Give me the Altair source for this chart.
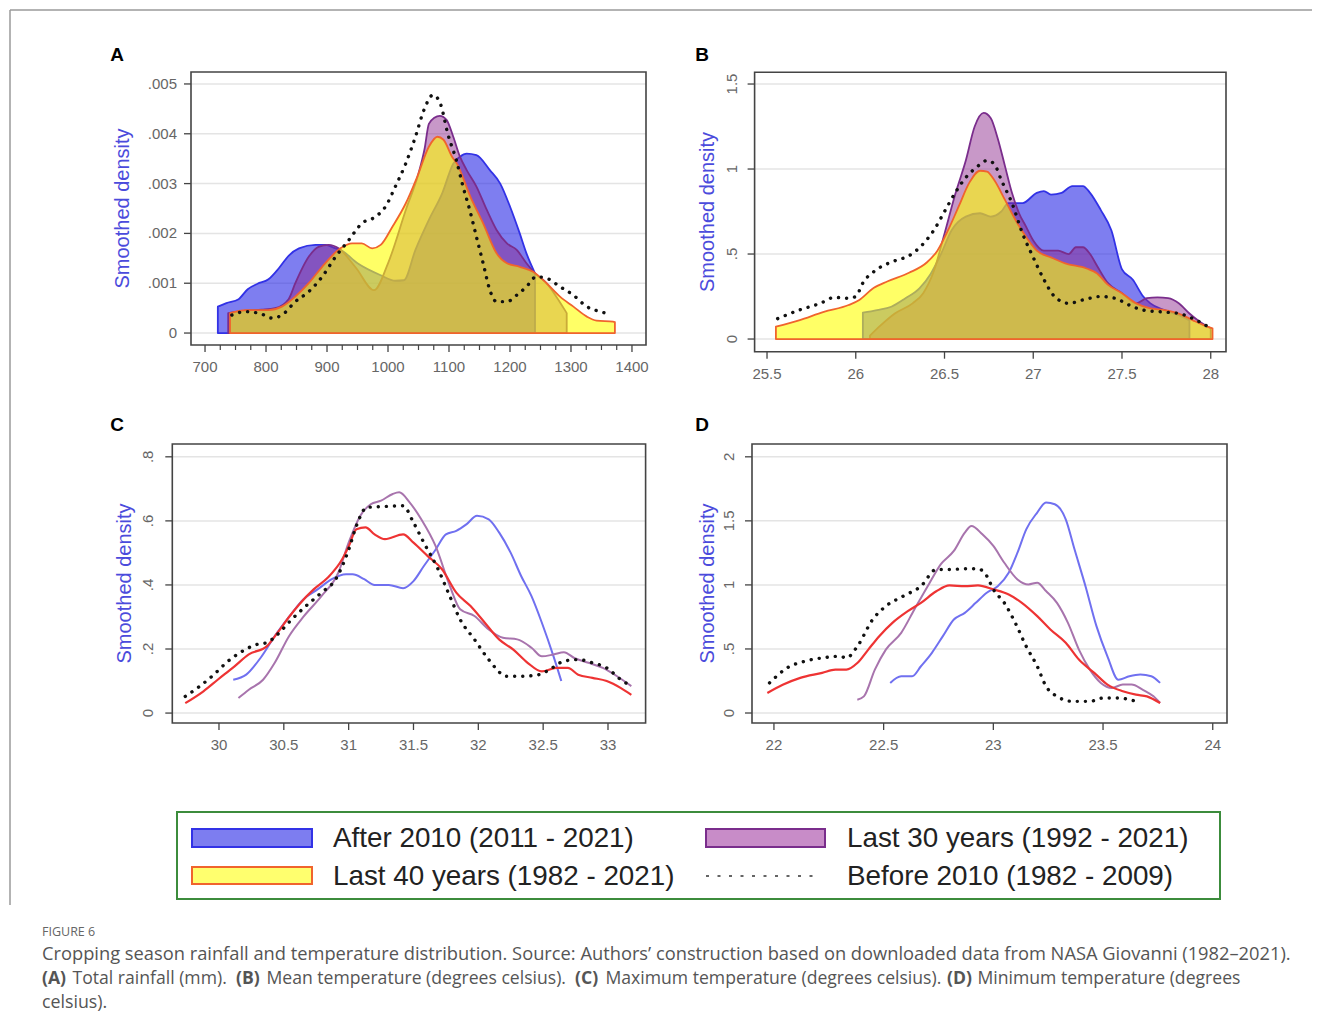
import altair as alt
import pandas as pd

# ---------------- data ----------------
# Panel A : total rainfall (mm)
A_BLUE_X = [721, 735, 755, 770, 786, 804, 821, 837, 854, 881, 897, 914, 922, 950, 988, 1012, 1026, 1045, 1067, 1089, 1107, 1118, 1129, 1145, 1167, 1184, 1200, 1216, 1227, 1241]
A_BLUE_Y = [0.00053, 0.0006, 0.00068, 0.00088, 0.00099, 0.00108, 0.0013, 0.00155, 0.0017, 0.00177, 0.00177, 0.0017, 0.00167, 0.0014, 0.00116, 0.00105, 0.00106, 0.00167, 0.00227, 0.00281, 0.0034, 0.00354, 0.0036, 0.00357, 0.00327, 0.003, 0.00254, 0.002, 0.0016, 0.0012]
A_PURP_X = [738, 766, 793, 815, 837, 848, 870, 886, 903, 919, 948, 977, 1000, 1030, 1050, 1060, 1067, 1076, 1085, 1096, 1107, 1118, 1129, 1145, 1162, 1178, 1195, 1211, 1227, 1241, 1260, 1276, 1290, 1293]
A_PURP_Y = [0.0004, 0.00045, 0.00047, 0.0005, 0.00068, 0.001, 0.00153, 0.00173, 0.00177, 0.0017, 0.0013, 0.00086, 0.0014, 0.0025, 0.0032, 0.0037, 0.0042, 0.00432, 0.00436, 0.00428, 0.00394, 0.00354, 0.00327, 0.00294, 0.00247, 0.00207, 0.0018, 0.00167, 0.0014, 0.0012, 0.001, 0.00073, 0.00046, 0.0004]
A_YELL_X = [741, 766, 804, 826, 848, 870, 892, 922, 941, 957, 974, 988, 1007, 1029, 1048, 1067, 1081, 1091, 1105, 1113, 1135, 1156, 1178, 1195, 1216, 1238, 1260, 1282, 1304, 1326, 1342, 1369, 1372]
A_YELL_Y = [0.0004, 0.00046, 0.00046, 0.00053, 0.00073, 0.001, 0.00133, 0.0017, 0.0018, 0.0018, 0.0017, 0.00177, 0.00213, 0.0026, 0.00314, 0.00374, 0.00394, 0.00388, 0.00354, 0.0034, 0.00274, 0.0022, 0.0016, 0.0014, 0.00133, 0.00123, 0.001, 0.00073, 0.00053, 0.00033, 0.00025, 0.00023, 0.00022]
A_DOT_X = [744, 766, 793, 810, 826, 848, 870, 892, 914, 936, 957, 979, 996, 1012, 1029, 1045, 1059, 1074, 1086, 1098, 1112, 1123, 1134, 1145, 1156, 1167, 1178, 1195, 1211, 1227, 1243, 1260, 1282, 1304, 1326, 1348, 1364]
A_DOT_Y = [0.00036, 0.00043, 0.00038, 0.0003, 0.00036, 0.00063, 0.00083, 0.00113, 0.00153, 0.00187, 0.0022, 0.00233, 0.00254, 0.00294, 0.0034, 0.00394, 0.00448, 0.00478, 0.0046, 0.004, 0.00347, 0.00294, 0.00247, 0.00193, 0.0014, 0.00086, 0.00063, 0.00063, 0.00076, 0.00093, 0.00113, 0.0011, 0.00093, 0.00076, 0.00053, 0.00043, 0.00038]

# Panel B : mean temperature
B_BLUE_X = [26.04, 26.12, 26.2, 26.28, 26.36, 26.42, 26.48, 26.54, 26.62, 26.7, 26.76, 26.82, 26.86, 26.94, 27.02, 27.06, 27.1, 27.16, 27.22, 27.28, 27.32, 27.38, 27.44, 27.5, 27.56, 27.62, 27.66, 27.74, 27.82, 27.88]
B_BLUE_Y = [0.155, 0.17, 0.19, 0.24, 0.3, 0.38, 0.5, 0.64, 0.72, 0.74, 0.72, 0.75, 0.8, 0.8, 0.86, 0.87, 0.85, 0.86, 0.9, 0.9, 0.86, 0.76, 0.64, 0.41, 0.35, 0.25, 0.21, 0.17, 0.14, 0.11]
B_PURP_X = [26.08, 26.14, 26.22, 26.32, 26.38, 26.44, 26.5, 26.56, 26.62, 26.67, 26.72, 26.76, 26.8, 26.84, 26.88, 26.92, 26.96, 27.0, 27.06, 27.14, 27.2, 27.24, 27.28, 27.32, 27.36, 27.42, 27.5, 27.58, 27.64, 27.7, 27.76, 27.82, 27.88, 27.94, 28.0]
B_PURP_Y = [0.02, 0.08, 0.15, 0.21, 0.27, 0.4, 0.62, 0.85, 1.05, 1.25, 1.33, 1.3, 1.18, 1.02, 0.86, 0.74, 0.66, 0.58, 0.52, 0.52, 0.5, 0.54, 0.54, 0.5, 0.43, 0.33, 0.27, 0.21, 0.24, 0.245, 0.24, 0.21, 0.15, 0.1, 0.063]
B_YELL_X = [25.55, 25.68, 25.82, 25.96, 26.02, 26.1, 26.18, 26.3, 26.4, 26.46, 26.52, 26.58, 26.64, 26.7, 26.74, 26.78, 26.84, 26.9, 26.96, 27.02, 27.1, 27.18, 27.3, 27.36, 27.42, 27.5, 27.58, 27.66, 27.74, 27.82, 27.9, 27.96, 28.01]
B_YELL_Y = [0.073, 0.11, 0.16, 0.2, 0.23, 0.3, 0.34, 0.39, 0.45, 0.52, 0.64, 0.78, 0.92, 0.99, 0.985, 0.935, 0.82, 0.7, 0.6, 0.52, 0.48, 0.445, 0.415, 0.386, 0.32, 0.27, 0.21, 0.18, 0.17, 0.15, 0.11, 0.082, 0.063]
B_DOT_X = [25.56, 25.68, 25.8, 25.88, 25.96, 26.0, 26.04, 26.12, 26.22, 26.3, 26.38, 26.44, 26.5, 26.56, 26.62, 26.68, 26.74, 26.78, 26.82, 26.88, 26.94, 27.0, 27.06, 27.12, 27.2, 27.28, 27.38, 27.46, 27.54, 27.62, 27.72, 27.82, 27.92, 28.0]
B_DOT_Y = [0.12, 0.17, 0.21, 0.245, 0.24, 0.25, 0.33, 0.41, 0.46, 0.49, 0.56, 0.64, 0.75, 0.86, 0.95, 1.01, 1.05, 1.03, 0.935, 0.8, 0.62, 0.48, 0.35, 0.25, 0.21, 0.23, 0.25, 0.24, 0.2, 0.17, 0.16, 0.15, 0.11, 0.063]

# Panel C : maximum temperature
C_BLUE_X = [30.11, 30.21, 30.32, 30.43, 30.54, 30.65, 30.76, 30.87, 30.98, 31.03, 31.12, 31.2, 31.31, 31.42, 31.5, 31.58, 31.67, 31.75, 31.83, 31.91, 31.99, 32.08, 32.16, 32.25, 32.33, 32.41, 32.49, 32.58, 32.64]
C_BLUE_Y = [0.104, 0.12, 0.172, 0.24, 0.3, 0.355, 0.386, 0.418, 0.433, 0.433, 0.418, 0.4, 0.4, 0.39, 0.412, 0.459, 0.51, 0.558, 0.569, 0.59, 0.616, 0.605, 0.564, 0.5, 0.428, 0.365, 0.282, 0.177, 0.1]
C_PURP_X = [30.15, 30.23, 30.34, 30.43, 30.54, 30.65, 30.79, 30.92, 31.0, 31.09, 31.17, 31.25, 31.34, 31.39, 31.47, 31.56, 31.67, 31.78, 31.86, 31.97, 32.08, 32.19, 32.3, 32.41, 32.49, 32.58, 32.66, 32.74, 32.85, 32.96, 33.07, 33.18]
C_PURP_Y = [0.047, 0.073, 0.104, 0.157, 0.24, 0.3, 0.365, 0.438, 0.532, 0.616, 0.652, 0.663, 0.684, 0.689, 0.658, 0.605, 0.522, 0.397, 0.324, 0.303, 0.261, 0.235, 0.23, 0.204, 0.177, 0.183, 0.19, 0.172, 0.157, 0.141, 0.115, 0.084]
C_RED_X = [29.74, 29.88, 29.99, 30.12, 30.23, 30.37, 30.45, 30.54, 30.62, 30.73, 30.84, 30.95, 31.0, 31.06, 31.13, 31.2, 31.28, 31.42, 31.5, 31.61, 31.72, 31.83, 31.94, 32.05, 32.16, 32.27, 32.38, 32.49, 32.6, 32.69, 32.77, 32.88, 32.99, 33.1, 33.18]
C_RED_Y = [0.031, 0.068, 0.104, 0.146, 0.183, 0.209, 0.25, 0.3, 0.34, 0.386, 0.423, 0.48, 0.52, 0.574, 0.58, 0.558, 0.543, 0.558, 0.532, 0.49, 0.449, 0.376, 0.334, 0.282, 0.23, 0.198, 0.157, 0.13, 0.141, 0.141, 0.12, 0.11, 0.1, 0.078, 0.057]
C_DOT_X = [29.74, 29.85, 29.96, 30.07, 30.18, 30.29, 30.37, 30.45, 30.56, 30.67, 30.79, 30.9, 31.0, 31.06, 31.14, 31.28, 31.42, 31.5, 31.58, 31.69, 31.78, 31.86, 31.97, 32.08, 32.22, 32.33, 32.47, 32.55, 32.66, 32.77, 32.88, 32.99, 33.1, 33.18]
C_DOT_Y = [0.052, 0.083, 0.12, 0.162, 0.193, 0.214, 0.22, 0.245, 0.292, 0.334, 0.376, 0.418, 0.51, 0.585, 0.642, 0.645, 0.647, 0.595, 0.532, 0.449, 0.365, 0.292, 0.23, 0.167, 0.115, 0.115, 0.12, 0.136, 0.162, 0.167, 0.157, 0.141, 0.104, 0.084]

# Panel D : minimum temperature
D_BLUE_X = [22.53, 22.58, 22.63, 22.67, 22.72, 22.77, 22.82, 22.87, 22.92, 22.97, 23.02, 23.07, 23.11, 23.15, 23.2, 23.24, 23.28, 23.33, 23.37, 23.42, 23.47, 23.52, 23.57, 23.62, 23.67, 23.72, 23.76]
D_BLUE_Y = [0.235, 0.287, 0.287, 0.365, 0.47, 0.6, 0.73, 0.782, 0.86, 0.939, 0.99, 1.095, 1.252, 1.434, 1.565, 1.643, 1.63, 1.512, 1.278, 0.99, 0.678, 0.443, 0.26, 0.287, 0.3, 0.287, 0.235]
D_PURP_X = [22.38, 22.41, 22.46, 22.51, 22.58, 22.64, 22.71, 22.76, 22.82, 22.87, 22.9, 22.95, 23.0, 23.05, 23.11, 23.16, 23.2, 23.24, 23.29, 23.34, 23.39, 23.44, 23.49, 23.54, 23.59, 23.63, 23.68, 23.73, 23.76]
D_PURP_Y = [0.104, 0.13, 0.339, 0.495, 0.626, 0.808, 1.017, 1.16, 1.265, 1.408, 1.46, 1.395, 1.304, 1.173, 1.043, 1.004, 1.017, 0.952, 0.86, 0.704, 0.495, 0.339, 0.235, 0.196, 0.222, 0.222, 0.183, 0.13, 0.078]
D_RED_X = [21.97, 22.04, 22.12, 22.22, 22.28, 22.33, 22.38, 22.43, 22.48, 22.54, 22.61, 22.67, 22.74, 22.8, 22.87, 22.93, 23.0, 23.07, 23.13, 23.2, 23.26, 23.33, 23.39, 23.46, 23.52, 23.59, 23.65, 23.7, 23.76]
D_RED_Y = [0.156, 0.22, 0.274, 0.313, 0.339, 0.339, 0.39, 0.495, 0.6, 0.704, 0.795, 0.86, 0.95, 0.996, 0.99, 0.996, 0.965, 0.925, 0.86, 0.756, 0.652, 0.548, 0.417, 0.313, 0.222, 0.17, 0.143, 0.13, 0.078]
D_DOT_X = [21.98, 22.06, 22.14, 22.22, 22.3, 22.33, 22.38, 22.45, 22.51, 22.59, 22.67, 22.74, 22.8, 22.87, 22.93, 22.97, 23.0, 23.05, 23.1, 23.15, 23.2, 23.24, 23.29, 23.36, 23.44, 23.5, 23.57, 23.65]
D_DOT_Y = [0.235, 0.352, 0.404, 0.43, 0.443, 0.43, 0.52, 0.73, 0.834, 0.913, 0.99, 1.12, 1.12, 1.126, 1.126, 1.07, 0.965, 0.86, 0.704, 0.52, 0.365, 0.209, 0.13, 0.091, 0.091, 0.117, 0.117, 0.091]

# Axis ticks and labels
A_XTICKS = [700, 800, 900, 1000, 1100, 1200, 1300, 1400]
A_XMINOR = [725, 750, 775, 825, 850, 875, 925, 950, 975, 1025, 1050, 1075, 1125, 1150, 1175, 1225, 1250, 1275, 1325, 1350, 1375]
A_YTICKS = [0, 0.001, 0.002, 0.003, 0.004, 0.005]
A_YLABELS = ["0", ".001", ".002", ".003", ".004", ".005"]
B_XTICKS = [25.5, 26, 26.5, 27, 27.5, 28]
B_XLABELS = ["25.5", "26", "26.5", "27", "27.5", "28"]
B_YTICKS = [0, 0.5, 1, 1.5]
B_YLABELS = ["0", ".5", "1", "1.5"]
C_XTICKS = [30, 30.5, 31, 31.5, 32, 32.5, 33]
C_XLABELS = ["30", "30.5", "31", "31.5", "32", "32.5", "33"]
C_YTICKS = [0, 0.2, 0.4, 0.6, 0.8]
C_YLABELS = ["0", ".2", ".4", ".6", ".8"]
D_XTICKS = [22, 22.5, 23, 23.5, 24]
D_XLABELS = ["22", "22.5", "23", "23.5", "24"]
D_YTICKS = [0, 0.5, 1, 1.5, 2]
D_YLABELS = ["0", ".5", "1", "1.5", "2"]

LEGEND_LABELS = ["After 2010 (2011 - 2021)", "Last 30 years (1992 - 2021)",
                 "Last 40 years (1982 - 2021)", "Before 2010 (1982 - 2009)"]
CAPTION_HEAD = "FIGURE 6"
CAPTION_1 = "Cropping season rainfall and temperature distribution. Source: Authors\u2019 construction based on downloaded data from NASA Giovanni (1982\u20132021)."
CAPTION_2 = [("(A)", True), ("Total rainfall (mm).", False), ("(B)", True),
             ("Mean temperature (degrees celsius).", False), ("(C)", True),
             ("Maximum temperature (degrees celsius).", False), ("(D)", True),
             ("Minimum temperature (degrees", False)]
CAPTION_3 = "celsius)."

# ---------------- layout / style ----------------
FONT = "Liberation Sans"
TICKC = "#666666"
FRAMEC = "#444444"
GRIDC = "#e4e4e4"
BLUE_FILL, BLUE_LINE = "#2828e6", "#3232e6"
PURP_FILL, PURP_LINE = "#8c288c", "#7a2d8c"
YELL_FILL, YELL_LINE = "#ffff00", "#f0642d"

PANELS = {
    "A": dict(xd=[677, 1423], yd=[-0.00024, 0.00524], xr=[183, 638], yr=[337, 64],
              rot=False, ylab_off=-14, ytitle_off=-68, letter=(109, 47)),
    "B": dict(xd=[25.43, 28.086], yd=[-0.0745, 1.569], xr=[746.6, 1218], yr=[343.7, 64.3],
              rot=True, ylab_off=-23, ytitle_off=-47, letter=(694, 47)),
    "C": dict(xd=[29.64, 33.29], yd=[-0.031, 0.84], xr=[164.3, 637.6], yr=[715, 436],
              rot=True, ylab_off=-24, ytitle_off=-47, letter=(109, 417)),
    "D": dict(xd=[21.9, 24.065], yd=[-0.078, 2.1], xr=[744, 1219], yr=[715, 436],
              rot=True, ylab_off=-23, ytitle_off=-44, letter=(694, 417)),
}

ONE = pd.DataFrame({"k": [0]})


def build_panel(name, areas, lines, xticks, xlabels, yticks, ylabels, minor=None):
    p = PANELS[name]
    sx = alt.Scale(domain=p["xd"], range=p["xr"], nice=False, zero=False)
    sy = alt.Scale(domain=p["yd"], range=p["yr"], nice=False, zero=False)
    xmin, xmax = p["xd"]
    ymin, ymax = p["yd"]
    ymid = (ymin + ymax) / 2

    def X(f):
        return alt.X(f, type="quantitative", scale=sx, axis=None)

    def Y(f):
        return alt.Y(f, type="quantitative", scale=sy, axis=None)

    def XD(v):
        return alt.XDatum(v, type="quantitative", scale=sx, axis=None)

    def YD(v):
        return alt.YDatum(v, type="quantitative", scale=sy, axis=None)

    layers = []
    grid = pd.DataFrame({"v": yticks})
    layers.append(alt.Chart(grid).mark_rule(color=GRIDC, strokeWidth=1.5).encode(
        y=Y("v"), x=XD(xmin), x2=alt.X2Datum(xmax)))

    for xs, ys, fill, fop, stroke in areas:
        df = pd.DataFrame({"x": xs, "y": ys})
        layers.append(alt.Chart(df).mark_area(
            fill=fill, fillOpacity=fop, stroke=stroke, strokeWidth=1.8,
            strokeJoin="round", interpolate="monotone").encode(
            x=X("x"), y=Y("y"), y2=alt.Y2Datum(0)))

    for xs, ys, color, width, dotted in lines:
        df = pd.DataFrame({"x": xs, "y": ys})
        if dotted:
            mk = alt.Chart(df).mark_line(color=color, strokeWidth=3.4, strokeCap="round",
                                         strokeDash=[0.1, 8], interpolate="monotone")
        else:
            mk = alt.Chart(df).mark_line(color=color, strokeWidth=width, interpolate="monotone")
        layers.append(mk.encode(x=X("x"), y=Y("y")))

    # frame
    layers.append(alt.Chart(ONE).mark_rect(fillOpacity=0, stroke=FRAMEC, strokeWidth=1.6).encode(
        x=XD(xmin), x2=alt.X2Datum(xmax), y=YD(ymin), y2=alt.Y2Datum(ymax)))

    # x ticks
    layers.append(alt.Chart(pd.DataFrame({"v": xticks})).mark_rule(
        color=FRAMEC, strokeWidth=1.3, y2Offset=7).encode(
        x=X("v"), y=YD(ymin), y2=alt.Y2Datum(ymin)))
    if minor:
        layers.append(alt.Chart(pd.DataFrame({"v": minor})).mark_rule(
            color=FRAMEC, strokeWidth=1.2, y2Offset=5).encode(
            x=X("v"), y=YD(ymin), y2=alt.Y2Datum(ymin)))
    layers.append(alt.Chart(pd.DataFrame({"v": xticks, "lab": xlabels})).mark_text(
        font=FONT, fontSize=15, color=TICKC, baseline="middle", align="center",
        yOffset=22).encode(x=X("v"), y=YD(ymin), text="lab:N"))

    # y ticks
    layers.append(alt.Chart(pd.DataFrame({"v": yticks})).mark_rule(
        color=FRAMEC, strokeWidth=1.3, x2Offset=-7).encode(
        y=Y("v"), x=XD(xmin), x2=alt.X2Datum(xmin)))
    ydf = pd.DataFrame({"v": yticks, "lab": ylabels})
    if p["rot"]:
        ylab = alt.Chart(ydf).mark_text(font=FONT, fontSize=15, color=TICKC, angle=270,
                                        align="center", baseline="middle",
                                        xOffset=p["ylab_off"])
    else:
        ylab = alt.Chart(ydf).mark_text(font=FONT, fontSize=15, color=TICKC,
                                        align="right", baseline="middle",
                                        xOffset=p["ylab_off"])
    layers.append(ylab.encode(x=XD(xmin), y=Y("v"), text="lab:N"))

    # axis title
    layers.append(alt.Chart(ONE).mark_text(
        text="Smoothed density", font=FONT, fontSize=20, color="#4b4bdc", angle=270,
        align="center", baseline="middle", xOffset=p["ytitle_off"]).encode(
        x=XD(xmin), y=YD(ymid)))

    # panel letter
    lx, ly = p["letter"]
    layers.append(alt.Chart(ONE).mark_text(
        text=name, font=FONT, fontSize=19, fontWeight="bold", color="#000000",
        align="center", baseline="middle").encode(x=alt.value(lx), y=alt.value(ly)))
    return alt.layer(*layers)


def area_set(bx, by, px, py, yx, yy):
    return [(bx, by, BLUE_FILL, 0.6, BLUE_LINE),
            (px, py, PURP_FILL, 0.48, PURP_LINE),
            (yx, yy, YELL_FILL, 0.6, YELL_LINE)]


panel_a = build_panel("A", area_set(A_BLUE_X, A_BLUE_Y, A_PURP_X, A_PURP_Y, A_YELL_X, A_YELL_Y),
                      [(A_DOT_X, A_DOT_Y, "#111111", 3, True)],
                      A_XTICKS, [str(v) for v in A_XTICKS], A_YTICKS, A_YLABELS, minor=A_XMINOR)
panel_b = build_panel("B", area_set(B_BLUE_X, B_BLUE_Y, B_PURP_X, B_PURP_Y, B_YELL_X, B_YELL_Y),
                      [(B_DOT_X, B_DOT_Y, "#111111", 3, True)],
                      B_XTICKS, B_XLABELS, B_YTICKS, B_YLABELS)


def line_style(bx, by, px, py, rx, ry, dx, dy):
    return [(bx, by, "#7070f0", 2.0, False),
            (px, py, "#a874ad", 2.0, False),
            (rx, ry, "#ee3333", 2.2, False),
            (dx, dy, "#111111", 3, True)]


panel_c = build_panel("C", [], line_style(C_BLUE_X, C_BLUE_Y, C_PURP_X, C_PURP_Y, C_RED_X, C_RED_Y, C_DOT_X, C_DOT_Y),
                      C_XTICKS, C_XLABELS, C_YTICKS, C_YLABELS)
panel_d = build_panel("D", [], line_style(D_BLUE_X, D_BLUE_Y, D_PURP_X, D_PURP_Y, D_RED_X, D_RED_Y, D_DOT_X, D_DOT_Y),
                      D_XTICKS, D_XLABELS, D_YTICKS, D_YLABELS)

# ---------------- decorations: border, legend, caption ----------------
deco = []
deco.append(alt.Chart(ONE).mark_rule(color="#9a9a9a", strokeWidth=1.5).encode(
    x=alt.value(2), x2=alt.value(1304), y=alt.value(2)))
deco.append(alt.Chart(ONE).mark_rule(color="#9a9a9a", strokeWidth=1.5).encode(
    x=alt.value(2), y=alt.value(2), y2=alt.value(897)))

deco.append(alt.Chart(ONE).mark_rect(fill="#ffffff", stroke="#3c8c3c", strokeWidth=2).encode(
    x=alt.value(169), x2=alt.value(1212), y=alt.value(804), y2=alt.value(891)))
swatches = [(184, 304, 821, 839, "#7d7df0", "#3232e6"),
            (698, 817, 821, 839, "#c88cc8", "#7a2d8c"),
            (184, 304, 859, 876, "#ffff6e", "#f0642d")]
for x1, x2, y1, y2, f, s in swatches:
    deco.append(alt.Chart(ONE).mark_rect(fill=f, stroke=s, strokeWidth=2).encode(
        x=alt.value(x1), x2=alt.value(x2), y=alt.value(y1), y2=alt.value(y2)))
deco.append(alt.Chart(ONE).mark_rule(color="#333333", strokeWidth=1.6, strokeDash=[3, 8.5]).encode(
    x=alt.value(698), x2=alt.value(812), y=alt.value(868)))
leg_pos = [(325, 831), (839, 831), (325, 869), (839, 869)]
for (lx, ly), lab in zip(leg_pos, LEGEND_LABELS):
    deco.append(alt.Chart(ONE).mark_text(text=lab, font=FONT, fontSize=27.8, color="#222222",
                                         align="left", baseline="middle").encode(
        x=alt.value(lx), y=alt.value(ly)))

CAPF = "Open Sans"
CAPC = "#555555"
CAPS = 18.3
CAPS2 = 17.6
deco.append(alt.Chart(ONE).mark_text(text=CAPTION_HEAD, font=CAPF, fontSize=12.5, color="#666666",
                                     align="left", baseline="middle").encode(
    x=alt.value(34), y=alt.value(924)))
deco.append(alt.Chart(ONE).mark_text(text=CAPTION_1, font=CAPF, fontSize=CAPS, color=CAPC,
                                     align="left", baseline="middle").encode(
    x=alt.value(34), y=alt.value(947)))
cap2_x = [34, 64.5, 228, 258.5, 567, 597.5, 939, 969.5]
for cx, (seg, bold) in zip(cap2_x, CAPTION_2):
    deco.append(alt.Chart(ONE).mark_text(text=seg, font=CAPF, fontSize=CAPS2, color=CAPC,
                                         fontWeight="bold" if bold else "normal",
                                         align="left", baseline="middle").encode(
        x=alt.value(cx), y=alt.value(970.5)))
deco.append(alt.Chart(ONE).mark_text(text=CAPTION_3, font=CAPF, fontSize=17.8, color=CAPC,
                                     align="left", baseline="middle").encode(
    x=alt.value(34), y=alt.value(994.5)))

chart = alt.layer(panel_a, panel_b, panel_c, panel_d, *deco).resolve_scale(
    x="independent", y="independent"
).properties(
    width=1304, height=1016, padding=0,
    autosize=alt.AutoSizeParams(type="none"),
    background="#ffffff",
).configure_view(strokeWidth=0)

chart.save("out.html", embed_options={"renderer": "svg", "actions": False})
